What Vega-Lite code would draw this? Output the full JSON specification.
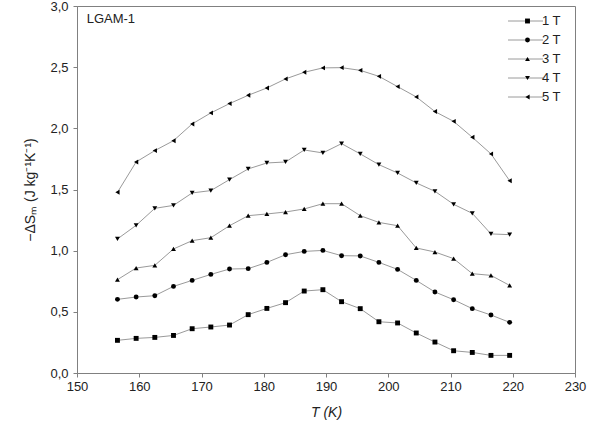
{
  "$schema": "https://vega.github.io/schema/vega-lite/v6.json",
  "width": 498,
  "height": 367,
  "autosize": {"type": "none"},
  "padding": {"left": 77, "top": 6, "right": 26, "bottom": 60},
  "background": "white",
  "config": {
    "view": {"stroke": "#808080", "strokeWidth": 1},
    "font": "Liberation Sans",
    "axis": {
      "domainColor": "#808080",
      "tickColor": "#808080",
      "labelColor": "#222222",
      "titleColor": "#222222",
      "labelFont": "Liberation Sans",
      "titleFont": "Liberation Sans",
      "labelFontSize": 13,
      "titleFontSize": 14,
      "titleFontWeight": "normal",
      "grid": false
    }
  },
  "datasets": {
    "main": [
      {"T": 156.5, "dS": 0.267, "series": "1 T"}, {"T": 159.5, "dS": 0.283, "series": "1 T"}, {"T": 162.5, "dS": 0.291, "series": "1 T"}, {"T": 165.5, "dS": 0.307, "series": "1 T"}, {"T": 168.5, "dS": 0.362, "series": "1 T"}, {"T": 171.5, "dS": 0.376, "series": "1 T"}, {"T": 174.5, "dS": 0.392, "series": "1 T"}, {"T": 177.5, "dS": 0.477, "series": "1 T"}, {"T": 180.5, "dS": 0.528, "series": "1 T"}, {"T": 183.5, "dS": 0.575, "series": "1 T"}, {"T": 186.5, "dS": 0.670, "series": "1 T"}, {"T": 189.5, "dS": 0.681, "series": "1 T"}, {"T": 192.5, "dS": 0.583, "series": "1 T"}, {"T": 195.5, "dS": 0.526, "series": "1 T"}, {"T": 198.5, "dS": 0.419, "series": "1 T"}, {"T": 201.5, "dS": 0.409, "series": "1 T"}, {"T": 204.5, "dS": 0.327, "series": "1 T"}, {"T": 207.5, "dS": 0.253, "series": "1 T"}, {"T": 210.5, "dS": 0.182, "series": "1 T"}, {"T": 213.5, "dS": 0.168, "series": "1 T"}, {"T": 216.5, "dS": 0.144, "series": "1 T"}, {"T": 219.5, "dS": 0.144, "series": "1 T"},
      {"T": 156.5, "dS": 0.602, "series": "2 T"}, {"T": 159.5, "dS": 0.621, "series": "2 T"}, {"T": 162.5, "dS": 0.632, "series": "2 T"}, {"T": 165.5, "dS": 0.708, "series": "2 T"}, {"T": 168.5, "dS": 0.757, "series": "2 T"}, {"T": 171.5, "dS": 0.806, "series": "2 T"}, {"T": 174.5, "dS": 0.850, "series": "2 T"}, {"T": 177.5, "dS": 0.853, "series": "2 T"}, {"T": 180.5, "dS": 0.904, "series": "2 T"}, {"T": 183.5, "dS": 0.967, "series": "2 T"}, {"T": 186.5, "dS": 0.994, "series": "2 T"}, {"T": 189.5, "dS": 1.002, "series": "2 T"}, {"T": 192.5, "dS": 0.959, "series": "2 T"}, {"T": 195.5, "dS": 0.957, "series": "2 T"}, {"T": 198.5, "dS": 0.904, "series": "2 T"}, {"T": 201.5, "dS": 0.847, "series": "2 T"}, {"T": 204.5, "dS": 0.757, "series": "2 T"}, {"T": 207.5, "dS": 0.662, "series": "2 T"}, {"T": 210.5, "dS": 0.599, "series": "2 T"}, {"T": 213.5, "dS": 0.526, "series": "2 T"}, {"T": 216.5, "dS": 0.474, "series": "2 T"}, {"T": 219.5, "dS": 0.414, "series": "2 T"},
      {"T": 156.5, "dS": 0.763, "series": "3 T"}, {"T": 159.5, "dS": 0.858, "series": "3 T"}, {"T": 162.5, "dS": 0.880, "series": "3 T"}, {"T": 165.5, "dS": 1.014, "series": "3 T"}, {"T": 168.5, "dS": 1.082, "series": "3 T"}, {"T": 171.5, "dS": 1.106, "series": "3 T"}, {"T": 174.5, "dS": 1.204, "series": "3 T"}, {"T": 177.5, "dS": 1.286, "series": "3 T"}, {"T": 180.5, "dS": 1.300, "series": "3 T"}, {"T": 183.5, "dS": 1.316, "series": "3 T"}, {"T": 186.5, "dS": 1.341, "series": "3 T"}, {"T": 189.5, "dS": 1.384, "series": "3 T"}, {"T": 192.5, "dS": 1.384, "series": "3 T"}, {"T": 195.5, "dS": 1.286, "series": "3 T"}, {"T": 198.5, "dS": 1.231, "series": "3 T"}, {"T": 201.5, "dS": 1.204, "series": "3 T"}, {"T": 204.5, "dS": 1.022, "series": "3 T"}, {"T": 207.5, "dS": 0.989, "series": "3 T"}, {"T": 210.5, "dS": 0.935, "series": "3 T"}, {"T": 213.5, "dS": 0.812, "series": "3 T"}, {"T": 216.5, "dS": 0.798, "series": "3 T"}, {"T": 219.5, "dS": 0.716, "series": "3 T"},
      {"T": 156.5, "dS": 1.096, "series": "4 T"}, {"T": 159.5, "dS": 1.207, "series": "4 T"}, {"T": 162.5, "dS": 1.346, "series": "4 T"}, {"T": 165.5, "dS": 1.370, "series": "4 T"}, {"T": 168.5, "dS": 1.472, "series": "4 T"}, {"T": 171.5, "dS": 1.491, "series": "4 T"}, {"T": 174.5, "dS": 1.581, "series": "4 T"}, {"T": 177.5, "dS": 1.668, "series": "4 T"}, {"T": 180.5, "dS": 1.717, "series": "4 T"}, {"T": 183.5, "dS": 1.725, "series": "4 T"}, {"T": 186.5, "dS": 1.823, "series": "4 T"}, {"T": 189.5, "dS": 1.799, "series": "4 T"}, {"T": 192.5, "dS": 1.875, "series": "4 T"}, {"T": 195.5, "dS": 1.791, "series": "4 T"}, {"T": 198.5, "dS": 1.703, "series": "4 T"}, {"T": 201.5, "dS": 1.635, "series": "4 T"}, {"T": 204.5, "dS": 1.554, "series": "4 T"}, {"T": 207.5, "dS": 1.485, "series": "4 T"}, {"T": 210.5, "dS": 1.379, "series": "4 T"}, {"T": 213.5, "dS": 1.305, "series": "4 T"}, {"T": 216.5, "dS": 1.137, "series": "4 T"}, {"T": 219.5, "dS": 1.131, "series": "4 T"},
      {"T": 156.5, "dS": 1.477, "series": "5 T"}, {"T": 159.5, "dS": 1.725, "series": "5 T"}, {"T": 162.5, "dS": 1.818, "series": "5 T"}, {"T": 165.5, "dS": 1.899, "series": "5 T"}, {"T": 168.5, "dS": 2.036, "series": "5 T"}, {"T": 171.5, "dS": 2.126, "series": "5 T"}, {"T": 174.5, "dS": 2.202, "series": "5 T"}, {"T": 177.5, "dS": 2.270, "series": "5 T"}, {"T": 180.5, "dS": 2.330, "series": "5 T"}, {"T": 183.5, "dS": 2.404, "series": "5 T"}, {"T": 186.5, "dS": 2.458, "series": "5 T"}, {"T": 189.5, "dS": 2.494, "series": "5 T"}, {"T": 192.5, "dS": 2.496, "series": "5 T"}, {"T": 195.5, "dS": 2.474, "series": "5 T"}, {"T": 198.5, "dS": 2.425, "series": "5 T"}, {"T": 201.5, "dS": 2.341, "series": "5 T"}, {"T": 204.5, "dS": 2.257, "series": "5 T"}, {"T": 207.5, "dS": 2.137, "series": "5 T"}, {"T": 210.5, "dS": 2.057, "series": "5 T"}, {"T": 213.5, "dS": 1.927, "series": "5 T"}, {"T": 216.5, "dS": 1.791, "series": "5 T"}, {"T": 219.5, "dS": 1.572, "series": "5 T"}
    ],
    "note": [{"label": "LGAM-1"}]
  },
  "layer": [
    {
      "data": {"name": "main"},
      "mark": {"type": "line", "strokeWidth": 1},
      "encoding": {
        "x": {
          "field": "T", "type": "quantitative",
          "scale": {"domain": [150, 230], "nice": false, "zero": false},
          "axis": {
            "title": "T (K)",
            "titleFontStyle": "italic",
            "titlePadding": 12,
            "values": [150, 155, 160, 165, 170, 175, 180, 185, 190, 195, 200, 205, 210, 215, 220, 225, 230],
            "labelExpr": "datum.value % 10 === 0 ? datum.label : ''",
            "tickSize": {"condition": {"test": "datum.value % 10 !== 0", "value": 2}, "value": 4},
            "labelPadding": 3,
            "labelFlush": false
          }
        },
        "y": {
          "field": "dS", "type": "quantitative",
          "scale": {"domain": [0, 3], "nice": false},
          "axis": {
            "title": "−ΔSₘ (J kg⁻¹K⁻¹)",
            "titlePadding": 12,
            "values": [0, 0.25, 0.5, 0.75, 1, 1.25, 1.5, 1.75, 2, 2.25, 2.5, 2.75, 3],
            "labelExpr": "round(datum.value * 100) % 50 === 0 ? replace(format(datum.value, '.1f'), '.', ',') : ''",
            "tickSize": {"condition": {"test": "round(datum.value * 100) % 50 !== 0", "value": 2}, "value": 4},
            "labelPadding": 5,
            "labelFlush": false
          }
        },
        "color": {
          "field": "series", "type": "nominal",
          "scale": {"domain": ["1 T", "2 T", "3 T", "4 T", "5 T"], "range": ["#9a9a9a", "#9a9a9a", "#9a9a9a", "#9a9a9a", "#9a9a9a"]},
          "legend": {
            "orient": "none", "legendX": 442, "legendY": 8.5,
            "title": null, "symbolType": "M-10,0H10", "symbolSize": 12.25, "symbolStrokeWidth": 1,
            "symbolFillColor": "transparent",
            "labelExpr": "' '", "labelFontSize": 13, "rowPadding": 5, "labelOffset": 4
          }
        }
      }
    },
    {
      "data": {"name": "main"},
      "mark": {"type": "point", "filled": true, "color": "black", "size": 24, "opacity": 1},
      "encoding": {
        "x": {"field": "T", "type": "quantitative"},
        "y": {"field": "dS", "type": "quantitative"},
        "shape": {
          "field": "series", "type": "nominal",
          "scale": {"range": ["square", "circle", "triangle-up", "triangle-down", "triangle-left"]},
          "legend": {
            "orient": "none", "legendX": 444, "legendY": 8.5,
            "title": null, "symbolSize": 24, "symbolFillColor": "black", "symbolStrokeWidth": 0,
            "labelFont": "Liberation Sans", "labelFontSize": 13, "labelColor": "#222222",
            "rowPadding": 5, "labelOffset": 8
          }
        }
      }
    },
    {
      "data": {"name": "note"},
      "mark": {"type": "text", "align": "left", "baseline": "middle", "fontSize": 13, "font": "Liberation Sans", "color": "#222222"},
      "encoding": {
        "text": {"field": "label"},
        "x": {"datum": 151.55, "type": "quantitative"},
        "y": {"datum": 2.897, "type": "quantitative"}
      }
    }
  ]
}
